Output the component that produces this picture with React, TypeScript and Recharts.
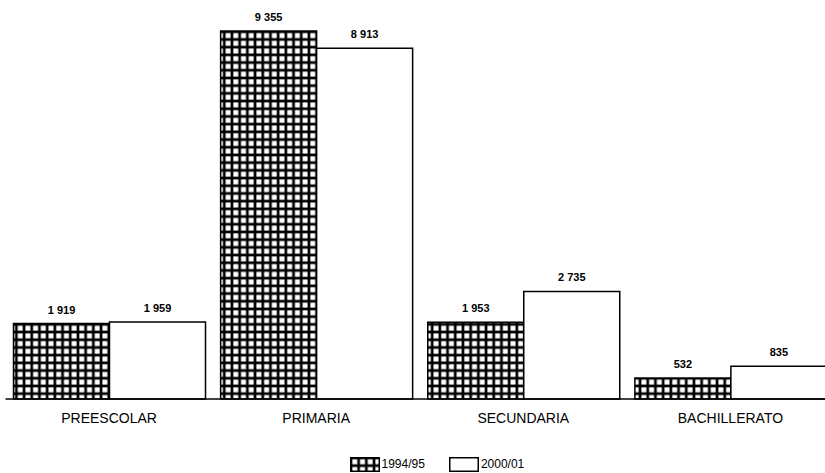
import { BarChart, Bar, XAxis, YAxis, Legend, LabelList } from 'recharts';

const categories = ['PREESCOLAR', 'PRIMARIA', 'SECUNDARIA', 'BACHILLERATO'];
const values9495 = [1919, 9355, 1953, 532];
const values0001 = [1959, 8913, 2735, 835];
const seriesNames = ['1994/95', '2000/01'];

const data = categories.map((name, i) => ({
  name,
  a: values9495[i],
  b: values0001[i],
}));

const FONT = '"Liberation Sans", Arial, Helvetica, sans-serif';

const fmt = (v: any) => String(v).replace(/\B(?=(\d{3})+(?!\d))/g, ' ');

const GridPattern = ({ id }: { id: string }) => (
  <pattern id={id} width={7.7} height={7.7} patternUnits="userSpaceOnUse">
    <rect x={0} y={0} width={7.7} height={7.7} fill="#000" />
    <rect x={2.3} y={2.3} width={5} height={5} fill="#fff" />
  </pattern>
);

const LegendContent = () => (
  <div
    style={{
      display: 'flex',
      alignItems: 'center',
      height: 20,
      paddingTop: 5,
      paddingLeft: 344,
      fontFamily: FONT,
      fontSize: 12,
      color: '#000',
    }}
  >
    <svg width={30} height={15} style={{ display: 'block' }}>
      <defs>
        <GridPattern id="legGrid" />
      </defs>
      <rect x={0.75} y={0.75} width={28.5} height={13.5} fill="url(#legGrid)" stroke="#000" strokeWidth={1.5} />
    </svg>
    <span style={{ marginLeft: 2 }}>{seriesNames[0]}</span>
    <svg width={30} height={15} style={{ display: 'block', marginLeft: 24 }}>
      <rect x={0.75} y={0.75} width={28.5} height={13.5} fill="#fff" stroke="#000" strokeWidth={1.5} />
    </svg>
    <span style={{ marginLeft: 2 }}>{seriesNames[1]}</span>
  </div>
);

export default function App() {
  return (
    <div
      style={{
        position: 'absolute',
        left: 0,
        top: 0,
        width: 825,
        height: 473,
        overflow: 'hidden',
        background: '#fff',
      }}
    >
      <BarChart
        width={834}
        height={473}
        data={data}
        margin={{ top: 5.6, right: 0, left: 5.5, bottom: 4 }}
        barCategoryGap={8}
        barGap={0}
      >
        <defs>
          <GridPattern id="barGrid" />
        </defs>
        <XAxis
          dataKey="name"
          axisLine={{ stroke: '#000', strokeWidth: 1.5 }}
          tickLine={false}
          tickSize={0}
          tickMargin={14}
          height={50}
          interval={0}
          tick={{ fill: '#000', fontSize: 14, fontFamily: FONT }}
        />
        <YAxis hide domain={[0, 10000]} />
        <Legend verticalAlign="bottom" height={20} content={<LegendContent />} />
        <Bar
          dataKey="a"
          name={seriesNames[0]}
          fill="url(#barGrid)"
          stroke="#000"
          strokeWidth={1.5}
          isAnimationActive={false}
        >
          <LabelList
            dataKey="a"
            position="top"
            offset={10}
            formatter={fmt}
            style={{ fill: '#000', fontSize: 11, fontWeight: 'bold', fontFamily: FONT }}
          />
        </Bar>
        <Bar
          dataKey="b"
          name={seriesNames[1]}
          fill="#fff"
          stroke="#000"
          strokeWidth={1.5}
          isAnimationActive={false}
        >
          <LabelList
            dataKey="b"
            position="top"
            offset={10}
            formatter={fmt}
            style={{ fill: '#000', fontSize: 11, fontWeight: 'bold', fontFamily: FONT }}
          />
        </Bar>
      </BarChart>
    </div>
  );
}
